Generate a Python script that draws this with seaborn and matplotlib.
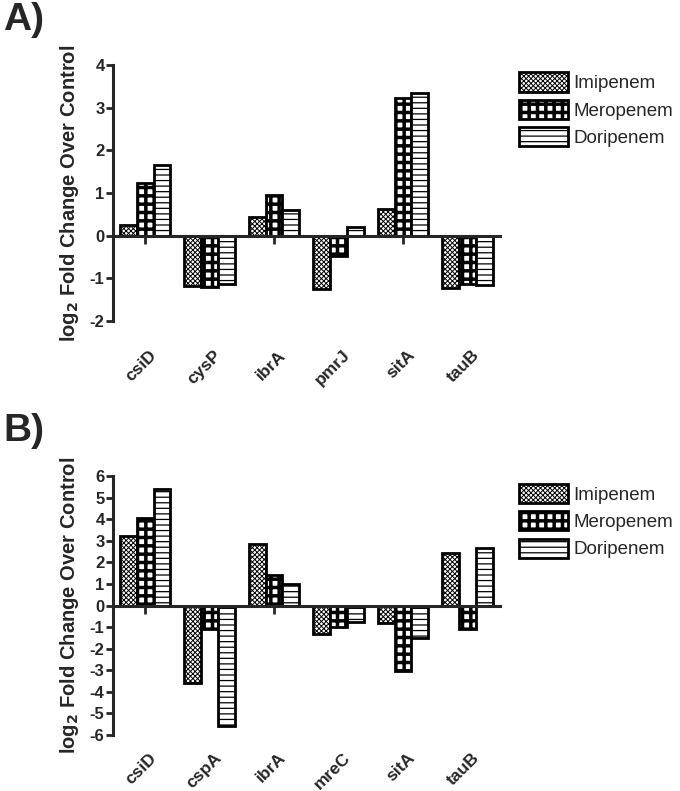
import numpy as np
import pandas as pd
import seaborn as sns
import matplotlib.pyplot as plt
from matplotlib.patches import Patch

drugs = ['Imipenem', 'Meropenem', 'Doripenem']

genes_a = ['csiD', 'cysP', 'ibrA', 'pmrJ', 'sitA', 'tauB']
imi_a = [0.25, -1.17, 0.44, -1.25, 0.63, -1.23]
mero_a = [1.23, -1.19, 0.96, -0.47, 3.23, -1.12]
dori_a = [1.65, -1.14, 0.61, 0.20, 3.35, -1.16]

genes_b = ['csiD', 'cspA', 'ibrA', 'mreC', 'sitA', 'tauB']
imi_b = [3.22, -3.60, 2.84, -1.30, -0.80, 2.43]
mero_b = [4.08, -1.10, 1.40, -1.00, -3.05, -1.10]
dori_b = [5.41, -5.59, 1.01, -0.78, -1.53, 2.68]

hatches = ['xxxxxxx', '++', '---']
hatch_lw = [0.7, 2.5, 0.9]

sns.set_style('ticks')
plt.rcParams['font.family'] = ['Liberation Sans', 'DejaVu Sans']
plt.rcParams['hatch.linewidth'] = 0.8


def long_df(genes, a, b, c):
    rows = []
    for vals, d in zip([a, b, c], drugs):
        for g, v in zip(genes, vals):
            rows.append({'gene': g, 'drug': d, 'val': v})
    return pd.DataFrame(rows)


def panel(ax, genes, a, b, c, ylim, yticks, lab_off):
    df = long_df(genes, a, b, c)
    sns.barplot(data=df, x='gene', y='val', hue='drug', hue_order=drugs,
                palette=['white'] * 3, edgecolor='black', linewidth=2.0,
                width=0.78, legend=False, ax=ax)
    for cont, h, hl in zip(ax.containers, hatches, hatch_lw):
        for p in cont:
            p.set_hatch(h)
            p.set_facecolor('white')
            if hasattr(p, 'set_hatch_linewidth'):
                p.set_hatch_linewidth(hl)
    ax.set_xlim(-0.5, len(genes) - 0.5)
    ax.set_ylim(*ylim)
    ax.set_yticks(yticks)
    ax.set_yticklabels([str(t) for t in yticks], fontweight='bold', fontsize=12)
    ax.spines['right'].set_visible(False)
    ax.spines['top'].set_visible(False)
    ax.spines['bottom'].set_position(('data', 0))
    ax.spines['left'].set_linewidth(2.2)
    ax.spines['bottom'].set_linewidth(2.2)
    ax.tick_params(axis='y', width=2, length=5, pad=1)
    ax.tick_params(axis='x', width=2, length=6, direction='out', labelbottom=False)
    ax.set_xlabel('')
    ax.set_ylabel(r'log$_\mathbf{2}$ Fold Change Over Control', fontweight='bold',
                  fontsize=14.5, labelpad=6)
    for i, g in enumerate(genes):
        ax.annotate(g, xy=(i, 0), xycoords=ax.get_xaxis_transform(),
                    xytext=(3, lab_off), textcoords='offset points',
                    rotation=45, ha='right', va='top', rotation_mode='anchor',
                    fontweight='bold', fontsize=12.5)
    handles = [Patch(facecolor='white', edgecolor='black', linewidth=2.0, hatch=h,
                     label=d) for h, d in zip(hatches, drugs)]
    leg = ax.legend(handles=handles, loc='upper left', bbox_to_anchor=(1.03, 1.0),
                    frameon=False, fontsize=13.5, handlelength=2.6, handleheight=1.2,
                    handletextpad=0.3, labelspacing=0.4, borderaxespad=0)
    if hasattr(leg.legend_handles[0], 'set_hatch_linewidth'):
        for hd, hl in zip(leg.legend_handles, hatch_lw):
            hd.set_hatch_linewidth(hl)


fig = plt.figure(figsize=(6.8, 7.91), dpi=100)
ax1 = fig.add_axes([0.166, 0.594, 0.569, 0.324])
ax2 = fig.add_axes([0.166, 0.071, 0.569, 0.327])

panel(ax1, genes_a, imi_a, mero_a, dori_a, (-2, 4), [-2, -1, 0, 1, 2, 3, 4], -19)
panel(ax2, genes_b, imi_b, mero_b, dori_b, (-6, 6), list(range(-6, 7)), -11)

fig.text(0.005, 0.997, 'A)', fontsize=28, fontweight='bold', va='top', ha='left')
fig.text(0.005, 0.478, 'B)', fontsize=28, fontweight='bold', va='top', ha='left')

fig.savefig('out.png', dpi=100)
